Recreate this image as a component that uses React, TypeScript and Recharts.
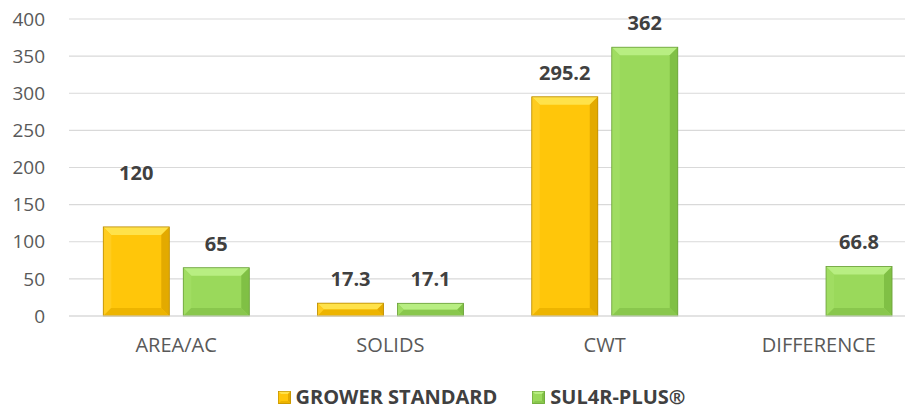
import React from "react";
import {
  BarChart,
  Bar,
  XAxis,
  YAxis,
  CartesianGrid,
  Legend,
  LabelList,
} from "recharts";

const categories = ["AREA/AC", "SOLIDS", "CWT", "DIFFERENCE"];
const growerStandard: (number | null)[] = [120, 17.3, 295.2, null];
const sul4rPlus = [65, 17.1, 362, 66.8];
const yTicks = [0, 50, 100, 150, 200, 250, 300, 350, 400];

const seriesNames = { grower: "GROWER STANDARD", sul4r: "SUL4R-PLUS®" };

const chartData = categories.map((c, i) => ({
  category: c,
  grower: growerStandard[i],
  sul4r: sul4rPlus[i],
}));

const palettes: Record<string, { base: string; top: string; left: string; right: string; bottom: string; edge: string }> = {
  grower: {
    base: "#FFC60A",
    top: "#FFE24A",
    left: "#FFCC20",
    right: "#E3AA00",
    bottom: "#EDB400",
    edge: "#B98A00",
  },
  sul4r: {
    base: "#9AD95B",
    top: "#B8EE82",
    left: "#A0DD62",
    right: "#80C045",
    bottom: "#89C74D",
    edge: "#6A9E3A",
  },
};

const font = "'Open Sans', 'Liberation Sans', sans-serif";

function bevelShape(key: string) {
  return (props: any) => {
    const { x, y, width, height } = props;
    if (!height || height <= 0) return <g />;
    const p = palettes[key];
    const b = Math.min(8, height / 2, width / 2);
    const x2 = x + width;
    const y2 = y + height;
    return (
      <g>
        <rect x={x} y={y} width={width} height={height} fill={p.base} />
        <polygon points={`${x},${y} ${x2},${y} ${x2 - b},${y + b} ${x + b},${y + b}`} fill={p.top} />
        <polygon points={`${x},${y} ${x + b},${y + b} ${x + b},${y2 - b} ${x},${y2}`} fill={p.left} />
        <polygon points={`${x2},${y} ${x2},${y2} ${x2 - b},${y2 - b} ${x2 - b},${y + b}`} fill={p.right} />
        <polygon points={`${x},${y2} ${x + b},${y2 - b} ${x2 - b},${y2 - b} ${x2},${y2}`} fill={p.bottom} />
        <rect x={x} y={y} width={width} height={height} fill="none" stroke={p.edge} strokeWidth={0.8} />
      </g>
    );
  };
}

function valueLabel(key: string) {
  return (props: any) => {
    const { x, y, width, value, index } = props;
    if (value == null) return null;
    // the 120 label sits higher in the original
    const lift = key === "grower" && index === 0 ? 47 : 17;
    return (
      <text
        x={x + width / 2}
        y={y - lift}
        textAnchor="middle"
        fontFamily={font}
        fontSize={20}
        fontWeight="bold"
        fill="#404040"
      >
        {value}
      </text>
    );
  };
}

function LegendContent() {
  const items = [
    { key: "grower", label: seriesNames.grower },
    { key: "sul4r", label: seriesNames.sul4r },
  ];
  return (
    <div
      style={{
        display: "flex",
        justifyContent: "center",
        alignItems: "center",
        gap: 35,
        height: 24,
        fontFamily: font,
        paddingLeft: 58,
      }}
    >
      {items.map((it) => {
        const p = palettes[it.key];
        return (
          <div key={it.key} style={{ display: "flex", alignItems: "center", gap: 5 }}>
            <svg width={13} height={13}>
              <rect x={0} y={0} width={13} height={13} fill={p.base} />
              <polygon points="0,0 13,0 10,3 3,3" fill={p.top} />
              <polygon points="13,0 13,13 10,10 10,3" fill={p.right} />
              <polygon points="0,13 3,10 10,10 13,13" fill={p.bottom} />
              <rect x={0.5} y={0.5} width={12} height={12} fill="none" stroke={p.edge} strokeWidth={0.6} />
            </svg>
            <span style={{ fontSize: 20, fontWeight: "bold", color: "#404040", lineHeight: "24px" }}>
              {it.label}
            </span>
          </div>
        );
      })}
    </div>
  );
}

export default function App() {
  React.useEffect(() => {
    document.body.style.margin = "0";
  }, []);
  return (
    <div style={{ width: 910, height: 409, background: "#fff", overflow: "hidden" }}>
      <BarChart
        width={910}
        height={409}
        data={chartData}
        margin={{ top: 19, right: 5, left: 0, bottom: 0 }}
        barCategoryGap="16%"
        barGap={14}
      >
        <CartesianGrid vertical={false} stroke="#d9d9d9" strokeWidth={1.2} />
        <XAxis
          dataKey="category"
          padding={{ left: 0, right: -21 }}
          axisLine={{ stroke: "#d9d9d9", strokeWidth: 1.2 }}
          tickLine={false}
          tickSize={0}
          tickMargin={22}
          height={69}
          tick={{ fill: "#595959", fontSize: 20, fontFamily: font }}
        />
        <YAxis
          width={69}
          domain={[0, 400]}
          ticks={yTicks}
          axisLine={false}
          tickLine={false}
          tickSize={0}
          tickMargin={24}
          tick={{ fill: "#595959", fontSize: 19, fontFamily: font }}
        />
        <Legend verticalAlign="bottom" height={24} content={<LegendContent />} />
        <Bar dataKey="grower" name={seriesNames.grower} shape={bevelShape("grower")} isAnimationActive={false}>
          <LabelList dataKey="grower" content={valueLabel("grower")} />
        </Bar>
        <Bar dataKey="sul4r" name={seriesNames.sul4r} shape={bevelShape("sul4r")} isAnimationActive={false}>
          <LabelList dataKey="sul4r" content={valueLabel("sul4r")} />
        </Bar>
      </BarChart>
    </div>
  );
}
